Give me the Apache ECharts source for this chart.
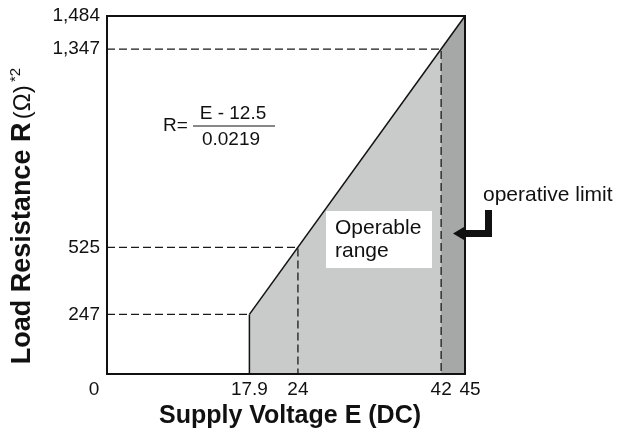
<!DOCTYPE html>
<html>
<head>
<meta charset="utf-8">
<script src="https://cdn.jsdelivr.net/npm/echarts@6/dist/echarts.min.js"></script>
<style>
    html, body { margin: 0; background: #fff; }
    #chart { width: 619px; height: 434px; }
</style>
</head>
<body>
<div id="chart"></div>
<script>
// R = (E - 12.5) / 0.0219
const xTicks = [0, 17.9, 24, 42, 45];
const yTicks = [247, 525, 1347, 1484];
const xMax = 45;
const yMax = 1484;

const operableEdge = [[17.9, 247], [42, 1347]];
const limitEdge = [[42, 1347], [45, 1484]];
const loadLine = [[17.9, 247], [45, 1484]];
const minVoltage = [[17.9, 247], [17.9, 0]];
const guide247 = [[0, 247], [17.9, 247]];
const guide525 = [[0, 525], [24, 525], [24, 0]];
const guide1347 = [[0, 1347], [42, 1347], [42, 0]];

const font = '"Liberation Sans", Arial, sans-serif';

let chartDom = document.getElementById('chart');
let chart = echarts.init(chartDom);

function lineSeries(data, opts) {
    return Object.assign({
        type: 'line',
        data: data,
        showSymbol: false,
        silent: true,
        animation: false,
        lineStyle: { color: '#111', width: 1.5 },
        z: 3
    }, opts);
}

let option = {
    backgroundColor: '#fff',
    animation: false,
    textStyle: { fontFamily: font },
    grid: {
        left: 105,
        right: 154,
        top: 16,
        bottom: 57,
        show: true,
        borderColor: '#111',
        borderWidth: 2,
        backgroundColor: 'transparent',
        z: 10
    },
    xAxis: {
        type: 'value',
        min: 0,
        max: xMax,
        name: 'Supply Voltage E (DC)',
        nameLocation: 'middle',
        nameGap: 30,
        nameTextStyle: {
            fontFamily: font, fontSize: 25, fontWeight: 'bold', color: '#111',
            padding: [0, 0, 0, 8]
        },
        axisLine: { show: false },
        axisTick: { show: false },
        splitLine: { show: false },
        axisLabel: {
            customValues: xTicks,
            margin: 6,
            fontSize: 19,
            color: '#111',
            formatter: v => v === 0 ? '{l|0}' : (v === 45 ? '{r|45}' : String(v)),
            rich: {
                l: { fontSize: 19, color: '#111', padding: [0, 26, 0, 0] },
                r: { fontSize: 19, color: '#111', padding: [0, 0, 0, 10] }
            }
        }
    },
    yAxis: {
        type: 'value',
        min: 0,
        max: yMax,
        name: '{b|Load Resistance R} {r|(Ω)} {s|*2}',
        nameLocation: 'middle',
        nameRotate: 90,
        nameGap: 69,
        nameTextStyle: {
            padding: [0, 42, 0, 0],
            rich: {
                b: { fontFamily: font, fontSize: 27, fontWeight: 'bold', color: '#111', lineHeight: 30 },
                r: { fontFamily: font, fontSize: 24, color: '#111', lineHeight: 30 },
                s: { fontFamily: font, fontSize: 15, color: '#111', verticalAlign: 'top', lineHeight: 15 }
            }
        },
        axisLine: { show: false },
        axisTick: { show: false },
        splitLine: { show: false },
        axisLabel: {
            customValues: yTicks,
            margin: 7,
            fontSize: 19,
            color: '#111',
            formatter: v => v.toLocaleString('en-US')
        }
    },
    series: [
        lineSeries(operableEdge, {
            lineStyle: { width: 0 },
            areaStyle: { color: '#c9caca', opacity: 1 },
            z: 1
        }),
        lineSeries(limitEdge, {
            lineStyle: { width: 0 },
            areaStyle: { color: '#a6a7a7', opacity: 1 },
            z: 1
        }),
        lineSeries(guide247, { lineStyle: { color: '#1a1a1a', width: 1.3, type: [8, 4] } }),
        lineSeries(guide525, { lineStyle: { color: '#1a1a1a', width: 1.3, type: [8, 4] } }),
        lineSeries(guide1347, { lineStyle: { color: '#1a1a1a', width: 1.3, type: [8, 4] } }),
        lineSeries(minVoltage, { lineStyle: { color: '#111', width: 1.5 } }),
        lineSeries(loadLine, { lineStyle: { color: '#111', width: 1.5 } })
    ],
    graphic: [
        // formula
        { type: 'text', x: 163, y: 126, z: 20,
          style: { text: 'R=', font: '19px ' + font, fill: '#111', verticalAlign: 'middle' } },
        { type: 'text', x: 233, y: 114, z: 20,
          style: { text: 'E - 12.5', font: '19px ' + font, fill: '#111', align: 'center', verticalAlign: 'middle' } },
        { type: 'line', z: 20, shape: { x1: 193, y1: 126, x2: 275, y2: 126 },
          style: { stroke: '#111', lineWidth: 1 } },
        { type: 'text', x: 231, y: 139.5, z: 20,
          style: { text: '0.0219', font: '19px ' + font, fill: '#111', align: 'center', verticalAlign: 'middle' } },
        // operable range box
        { type: 'rect', z: 20, shape: { x: 326, y: 211, width: 106, height: 57 },
          style: { fill: '#fff' } },
        { type: 'text', x: 335, y: 228, z: 21,
          style: { text: 'Operable', font: '21px ' + font, fill: '#111', verticalAlign: 'middle' } },
        { type: 'text', x: 335, y: 251, z: 21,
          style: { text: 'range', font: '21px ' + font, fill: '#111', verticalAlign: 'middle' } },
        // operative limit
        { type: 'text', x: 483, y: 195, z: 20,
          style: { text: 'operative limit', font: '21px ' + font, fill: '#111', verticalAlign: 'middle' } },
        { type: 'polygon', z: 20,
          shape: { points: [[453, 233.5], [464, 227], [464, 230], [485, 230], [485, 210], [492, 210], [492, 237], [464, 237], [464, 240]] },
          style: { fill: '#111' } }
    ]
};

chart.setOption(option);

window.addEventListener('resize', () => {
    chart.resize();
});
</script>
</body>
</html>
